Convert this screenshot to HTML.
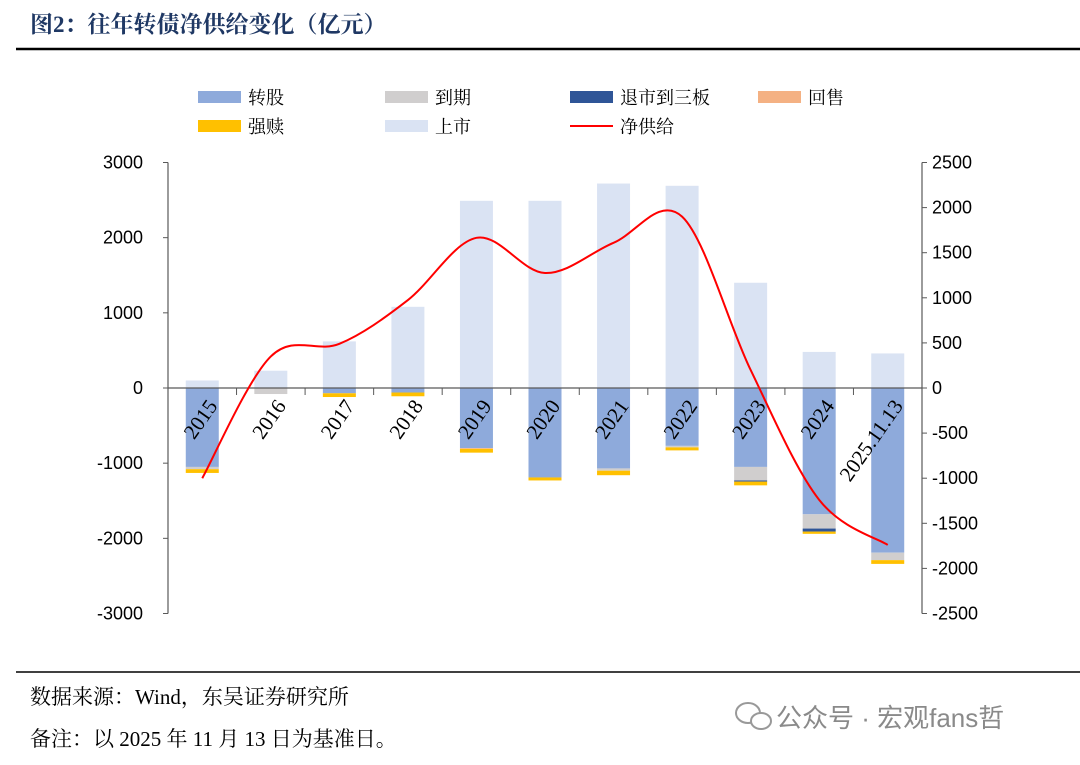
<!DOCTYPE html>
<html><head><meta charset="utf-8"><style>
body{margin:0;background:#fff;width:1080px;height:760px;overflow:hidden;font-family:"Liberation Sans","Noto Sans CJK SC",sans-serif}
</style></head><body>
<svg id="c" width="1080" height="760" xmlns="http://www.w3.org/2000/svg">
<text x="30" y="32" font-size="23" font-weight="bold" fill="#1f3864" font-family="'Liberation Serif','Noto Serif CJK SC',serif">图2：往年转债净供给变化（亿元）</text>
<line x1="16" y1="49" x2="1080" y2="49" stroke="#000" stroke-width="2.5"/>
<line x1="16" y1="672" x2="1080" y2="672" stroke="#000" stroke-width="1.5"/>
<text x="30" y="704" font-size="21" fill="#000" font-family="'Liberation Serif','Noto Serif CJK SC',serif">数据来源：Wind，东吴证券研究所</text>
<text x="30" y="746" font-size="21" fill="#000" font-family="'Liberation Serif','Noto Serif CJK SC',serif">备注：以 2025 年 11 月 13 日为基准日。</text>
<g>
<ellipse cx="748" cy="713" rx="12" ry="10" fill="none" stroke="#999" stroke-width="2"/>
<ellipse cx="761" cy="721" rx="10" ry="8" fill="#fff" stroke="#999" stroke-width="2"/>
<text x="776" y="727" font-size="26" fill="#8a8a8a" font-family="'Liberation Sans','Noto Sans CJK SC',sans-serif">公众号 · 宏观fans哲</text>
</g>
<g id="legend" font-size="18" font-family="'Liberation Serif','Noto Serif CJK SC',serif" fill="#000"></g>
<g id="plot"></g>
</svg>
<script>
const categories=["2015","2016","2017","2018","2019","2020","2021","2022","2023","2024","2025.11.13"];
const listing=[100,230,620,1080,2490,2490,2720,2690,1400,480,460];
const conversion=[-1050,0,-70,-60,-800,-1190,-1070,-770,-1050,-1680,-2190];
const maturity=[-30,-80,0,0,0,0,-30,-20,-180,-190,-100];
const delisting=[0,0,0,0,0,0,0,0,-15,-40,0];
const putback=[0,0,0,0,-10,0,0,0,0,0,0];
const redemption=[-50,0,-50,-50,-50,-40,-60,-40,-50,-30,-50];
const netSupply=[-1000,350,490,975,1665,1275,1610,1900,200,-1240,-1740];
const leftTicks=[3000,2000,1000,0,-1000,-2000,-3000];
const rightTicks=[2500,2000,1500,1000,500,0,-500,-1000,-1500,-2000,-2500];
const NS="http://www.w3.org/2000/svg";
const plot=document.getElementById('plot');
const X0=168,X1=922,band=(X1-X0)/categories.length,Y0=388;
const yL=v=>Y0-v*0.07517;
const yR=v=>Y0-v*0.0902;
const xc=i=>X0+band*(i+0.5);
function mk(tag,a,p){const e=document.createElementNS(NS,tag);for(const k in a)e.setAttribute(k,a[k]);(p||plot).appendChild(e);return e;}
const colors={conv:"#8eaadb",mat:"#d0cece",del:"#2f5597",put:"#f4b183",red:"#ffc000",list:"#dae3f3"};
categories.forEach((c,i)=>{
  const w=33,x=xc(i)-w/2;
  let r=mk('rect',{x:x,y:yL(listing[i]),width:w,height:yL(0)-yL(listing[i]),fill:colors.list});
  
  
  let base=0;
  [[conversion,'conv','conversion'],[maturity,'mat','maturity'],[delisting,'del','delisting'],[putback,'put','putback'],[redemption,'red','redemption']].forEach(([arr,k,n])=>{
    const v=arr[i];if(!v)return;
    const y1=yL(base),y2=yL(base+v);
    const b=mk('rect',{x:x,y:y1,width:w,height:y2-y1,fill:colors[k]});
    
    
    base+=v;
  });
});
let a=mk('line',{x1:X0,y1:yL(3000),x2:X0,y2:yL(-3000),stroke:"#595959","stroke-width":1.2});

a=mk('line',{x1:X1,y1:yR(2500),x2:X1,y2:yR(-2500),stroke:"#595959","stroke-width":1.2});

a=mk('line',{x1:X0,y1:Y0,x2:X1,y2:Y0,stroke:"#595959","stroke-width":1.2});

leftTicks.forEach(v=>{
  mk('line',{x1:X0-5,y1:yL(v),x2:X0,y2:yL(v),stroke:"#595959"});
  const t=mk('text',{x:143,y:yL(v)+6,"text-anchor":"end","font-size":18,fill:"#000"});t.textContent=v;
  
});
rightTicks.forEach(v=>{
  mk('line',{x1:X1,y1:yR(v),x2:X1+5,y2:yR(v),stroke:"#595959"});
  const t=mk('text',{x:932,y:yR(v)+6,"font-size":18,fill:"#000"});t.textContent=v;
  
});
for(let i=1;i<categories.length;i++) mk('line',{x1:X0+band*i,y1:Y0,x2:X0+band*i,y2:Y0+7,stroke:"#595959"});
categories.forEach((c,i)=>{
  const t=mk('text',{x:0,y:0,"text-anchor":"end","font-size":21,fill:"#000","font-family":"'Liberation Serif',serif",transform:`translate(${xc(i)+16},${Y0+18}) rotate(-55)`});
  t.textContent=c;
  
});
const pts=netSupply.map((v,i)=>[xc(i),yR(v)]);
let d=`M${pts[0][0]},${pts[0][1]}`;
for(let i=0;i<pts.length-1;i++){
  const p0=pts[Math.max(0,i-1)],p1=pts[i],p2=pts[i+1],p3=pts[Math.min(pts.length-1,i+2)];
  const c1=[p1[0]+(p2[0]-p0[0])/6,p1[1]+(p2[1]-p0[1])/6],c2=[p2[0]-(p3[0]-p1[0])/6,p2[1]-(p3[1]-p1[1])/6];
  d+=` C${c1[0]},${c1[1]} ${c2[0]},${c2[1]} ${p2[0]},${p2[1]}`;
}
const ln=mk('path',{d:d,fill:"none",stroke:"#ff0000","stroke-width":2});

const lg=document.getElementById('legend');
[["转股",colors.conv,198,97],["到期",colors.mat,385,97],["退市到三板",colors.del,570,97],["回售",colors.put,758,97],["强赎",colors.red,198,126],["上市",colors.list,385,126]].forEach(([n,c,x,y])=>{
  const g=mk('g',{},lg);
  
  mk('rect',{x:x,y:y-6,width:43,height:12,fill:c},g);
  const t=mk('text',{x:x+50,y:y+7},g);t.textContent=n;
});
const g=mk('g',{},lg);

mk('line',{x1:570,y1:126,x2:613,y2:126,stroke:"#ff0000","stroke-width":2},g);
const t=mk('text',{x:620,y:133},g);t.textContent="净供给";
</script>
</body></html>
